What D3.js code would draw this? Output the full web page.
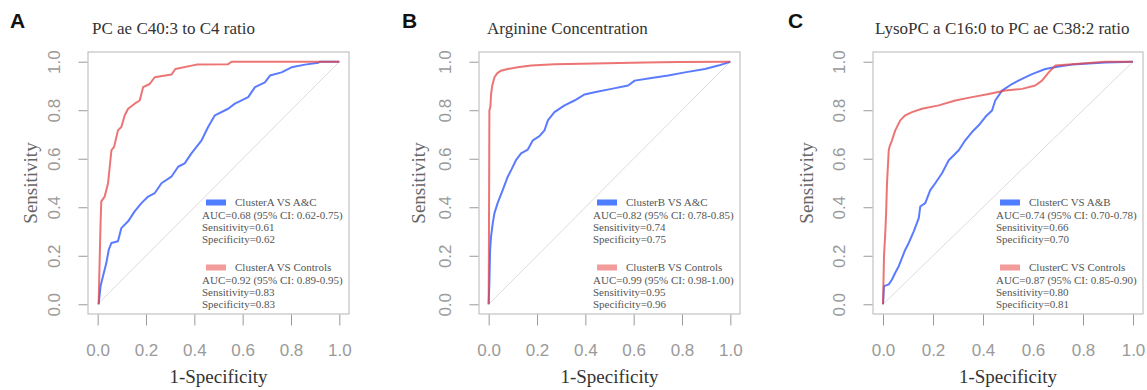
<!DOCTYPE html>
<html>
<head>
<meta charset="utf-8">
<script src="https://cdn.jsdelivr.net/npm/d3@7"></script>
<style>
  body { margin: 0; background: #fff; }
  svg { display: block; }
</style>
</head>
<body>
<div id="chart"></div>
<script>
// ---- data: [1-specificity, sensitivity] ----
const panelLetters = ["A", "B", "C"];
const panelTitles = [
  "PC ae C40:3 to C4 ratio",
  "Arginine Concentration",
  "LysoPC a C16:0 to PC ae C38:2 ratio"
];
const legendNames = [
  ["ClusterA VS A&C", "ClusterA VS Controls"],
  ["ClusterB VS A&C", "ClusterB VS Controls"],
  ["ClusterC VS A&B", "ClusterC VS Controls"]
];
const legendStats = [
  [["AUC=0.68 (95% CI: 0.62-0.75)", "Sensitivity=0.61", "Specificity=0.62"],
   ["AUC=0.92 (95% CI: 0.89-0.95)", "Sensitivity=0.83", "Specificity=0.83"]],
  [["AUC=0.82 (95% CI: 0.78-0.85)", "Sensitivity=0.74", "Specificity=0.75"],
   ["AUC=0.99 (95% CI: 0.98-1.00)", "Sensitivity=0.95", "Specificity=0.96"]],
  [["AUC=0.74 (95% CI: 0.70-0.78)", "Sensitivity=0.66", "Specificity=0.70"],
   ["AUC=0.87 (95% CI: 0.85-0.90)", "Sensitivity=0.80", "Specificity=0.81"]]
];
const axisTicks = [0, 0.2, 0.4, 0.6, 0.8, 1.0];

const rocA_others = [
  [0.004, 0], [0.012, 0.075], [0.022, 0.116], [0.036, 0.171], [0.046, 0.225],
  [0.057, 0.253], [0.084, 0.260], [0.098, 0.314], [0.126, 0.342], [0.153, 0.383],
  [0.181, 0.417], [0.209, 0.444], [0.236, 0.458], [0.264, 0.499], [0.305, 0.526],
  [0.333, 0.567], [0.360, 0.581], [0.388, 0.622], [0.430, 0.676], [0.457, 0.731],
  [0.485, 0.779], [0.540, 0.806], [0.568, 0.827], [0.623, 0.854], [0.651, 0.895],
  [0.692, 0.915], [0.713, 0.943], [0.761, 0.956], [0.802, 0.977], [0.858, 0.988],
  [0.913, 0.996], [0.920, 1.0], [1, 1]
];
const rocA_controls = [
  [0.004, 0], [0.008, 0.171], [0.012, 0.335], [0.015, 0.424], [0.029, 0.444],
  [0.043, 0.499], [0.050, 0.567], [0.057, 0.635], [0.068, 0.649], [0.084, 0.717],
  [0.098, 0.731], [0.112, 0.779], [0.126, 0.806], [0.153, 0.827], [0.174, 0.840],
  [0.188, 0.895], [0.215, 0.908], [0.236, 0.936], [0.305, 0.947], [0.322, 0.970],
  [0.409, 0.988], [0.540, 0.990], [0.554, 1.0], [1, 1]
];
const rocB_others = [
  [0, 0], [0.003, 0.089], [0.006, 0.225], [0.010, 0.280], [0.017, 0.335],
  [0.024, 0.376], [0.037, 0.417], [0.058, 0.471], [0.079, 0.526], [0.093, 0.553],
  [0.113, 0.594], [0.134, 0.622], [0.162, 0.638], [0.183, 0.676], [0.210, 0.693],
  [0.231, 0.717], [0.245, 0.758], [0.272, 0.792], [0.314, 0.820], [0.355, 0.840],
  [0.397, 0.865], [0.438, 0.874], [0.508, 0.888], [0.577, 0.902], [0.604, 0.922],
  [0.674, 0.933], [0.743, 0.943], [0.812, 0.956], [0.895, 0.970], [0.950, 0.984],
  [1, 1]
];
const rocB_controls = [
  [0, 0], [0.001, 0.225], [0.003, 0.799], [0.007, 0.813], [0.010, 0.867],
  [0.015, 0.902], [0.024, 0.936], [0.035, 0.952], [0.051, 0.963], [0.079, 0.970],
  [0.120, 0.977], [0.176, 0.984], [0.272, 0.990], [0.438, 0.993], [0.646, 0.997],
  [0.784, 0.999], [1, 1]
];
const rocC_others = [
  [0, 0], [0.004, 0.075], [0.023, 0.082], [0.036, 0.102], [0.049, 0.130],
  [0.063, 0.157], [0.076, 0.191], [0.089, 0.225], [0.103, 0.253], [0.123, 0.301],
  [0.143, 0.355], [0.149, 0.403], [0.169, 0.417], [0.189, 0.471], [0.209, 0.499],
  [0.236, 0.540], [0.263, 0.594], [0.303, 0.635], [0.329, 0.676], [0.356, 0.710],
  [0.383, 0.738], [0.409, 0.772], [0.436, 0.799], [0.449, 0.840], [0.476, 0.881],
  [0.516, 0.908], [0.556, 0.929], [0.596, 0.949], [0.649, 0.970], [0.703, 0.980],
  [0.756, 0.988], [0.889, 0.997], [1, 1]
];
const rocC_controls = [
  [0, 0], [0.004, 0.198], [0.009, 0.294], [0.012, 0.362], [0.016, 0.499],
  [0.023, 0.635], [0.027, 0.652], [0.036, 0.676], [0.049, 0.717], [0.069, 0.758],
  [0.089, 0.779], [0.116, 0.792], [0.156, 0.806], [0.223, 0.820], [0.289, 0.840],
  [0.356, 0.854], [0.423, 0.867], [0.489, 0.881], [0.556, 0.888], [0.609, 0.902],
  [0.636, 0.922], [0.663, 0.956], [0.689, 0.984], [0.756, 0.990], [0.889, 1.0],
  [1, 1]
];
const curves = [
  [rocA_others, rocA_controls],
  [rocB_others, rocB_controls],
  [rocC_others, rocC_controls]
];

// ---- layout ----
const W = 1147, H = 390;
const boxTop = 52, boxBottom = 314;
const panels = [
  { left: 88, width: 261, titleX: 92, letterX: 10, ylabOff: 58 },
  { left: 479, width: 261, titleX: 487, letterX: 402, ylabOff: 61 },
  { left: 873, width: 270, titleX: 875, letterX: 788, ylabOff: 67 }
];
const blue = "#5b7bff", red = "#e64545";
const legendBlue = "#4f7dff", legendRed = "#f39c9c";
const serif = "'Liberation Serif', 'Times New Roman', serif";
const sans = "'Liberation Sans', Arial, sans-serif";

const svg = d3.select("#chart").append("svg")
  .attr("width", W).attr("height", H);

panels.forEach((p, i) => {
  const x = d3.scaleLinear().domain([-0.04, 1.04]).range([p.left, p.left + p.width]);
  const y = d3.scaleLinear().domain([-0.04, 1.04]).range([boxBottom, boxTop]);
  const g = svg.append("g");

  // panel letter and title
  g.append("text").attr("x", p.letterX).attr("y", 28)
    .style("font", `bold 21px ${sans}`).attr("fill", "#111").text(panelLetters[i]);
  g.append("text").attr("x", p.titleX).attr("y", 34)
    .style("font", `17px ${serif}`).attr("fill", "#333").text(panelTitles[i]);

  // chance line
  g.append("line")
    .attr("x1", x(0)).attr("y1", y(0)).attr("x2", x(1)).attr("y2", y(1))
    .attr("stroke", "#dcdcdc").attr("stroke-width", 1);

  // curves
  const line = d3.line().x(d => x(d[0])).y(d => y(d[1]));
  g.append("path").datum(curves[i][0]).attr("d", line)
    .attr("fill", "none").attr("stroke", blue).attr("stroke-width", 2)
    .attr("stroke-linejoin", "round");
  g.append("path").datum(curves[i][1]).attr("d", line)
    .attr("fill", "none").attr("stroke", red).attr("stroke-width", 2)
    .attr("stroke-opacity", 0.75).attr("stroke-linejoin", "round");

  // box
  g.append("rect")
    .attr("x", p.left).attr("y", boxTop)
    .attr("width", p.width).attr("height", boxBottom - boxTop)
    .attr("fill", "none").attr("stroke", "#b5b5b5").attr("stroke-width", 1);

  // x axis
  const xa = g.append("g").attr("transform", `translate(0,${boxBottom + 0.5})`)
    .call(d3.axisBottom(x).tickValues(axisTicks).tickSize(11).tickPadding(18)
      .tickFormat(d3.format(".1f")));
  xa.select(".domain").remove();
  xa.selectAll("line").attr("stroke", "#9a9a9a");
  xa.selectAll("text").style("font", `17px ${sans}`).attr("fill", "#9a9a9a");

  // y axis, labels rotated like base R
  const ya = g.append("g").attr("transform", `translate(${p.left - 0.5},0)`)
    .call(d3.axisLeft(y).tickValues(axisTicks).tickSize(9)
      .tickFormat(d3.format(".1f")));
  ya.select(".domain").remove();
  ya.selectAll("line").attr("stroke", "#9a9a9a");
  ya.selectAll("text")
    .attr("x", null).attr("dy", "0.36em")
    .attr("text-anchor", "middle")
    .attr("transform", "translate(-34,0) rotate(-90)")
    .style("font", `17px ${sans}`).attr("fill", "#9a9a9a");

  // axis titles
  g.append("text")
    .attr("x", (x(0) + x(1)) / 2).attr("y", 383)
    .attr("text-anchor", "middle")
    .style("font", `19px ${serif}`).attr("fill", "#333").text("1-Specificity");
  g.append("text")
    .attr("transform", `translate(${p.left - p.ylabOff},${(y(0) + y(1)) / 2}) rotate(-90)`)
    .attr("dy", "0.35em").attr("text-anchor", "middle")
    .style("font", `19px ${serif}`).attr("fill", "#666").text("Sensitivity");

  // legend
  const lx = p.left + p.width - 147;
  const blocks = [
    { top: 202.5, fill: legendBlue },
    { top: 267.5, fill: legendRed }
  ];
  blocks.forEach((b, k) => {
    g.append("rect").attr("x", lx + 4).attr("y", b.top - 3)
      .attr("width", 20).attr("height", 6).attr("fill", b.fill);
    g.append("text").attr("x", lx + 33).attr("y", b.top + 3.8)
      .style("font", `11px ${serif}`).attr("fill", "#555").text(legendNames[i][k]);
    legendStats[i][k].forEach((s, j) => {
      g.append("text").attr("x", lx).attr("y", b.top + 16.5 + j * 12.2)
        .style("font", `11px ${serif}`).attr("fill", "#555").text(s);
    });
  });
});
</script>
</body>
</html>
